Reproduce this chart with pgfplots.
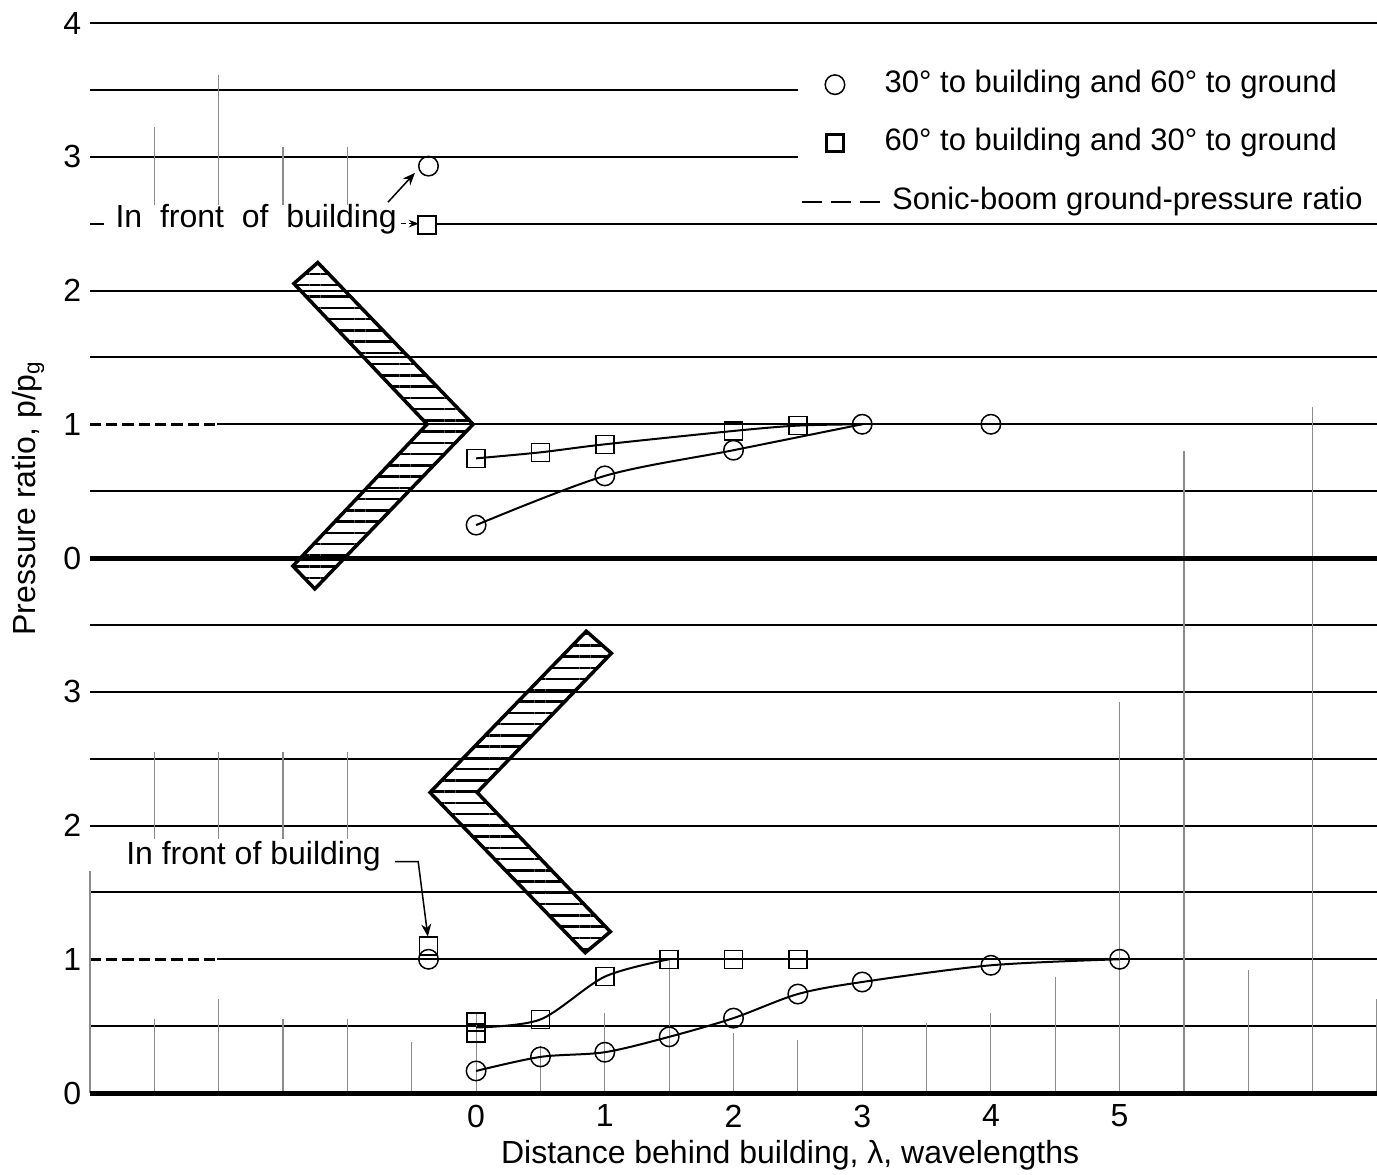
\documentclass[border=0pt]{standalone}
\usepackage{fontspec}
\setmainfont{Liberation Sans}
\usepackage{pgfplots}
\pgfplotsset{compat=1.18}
\usetikzlibrary{patterns.meta,arrows.meta}

\newcommand{\lab}{\fontsize{12.8}{15}\selectfont}
\newcommand{\leg}{\fontsize{12.4}{15}\selectfont}

\pgfplotsset{
  panel/.style={
    scale only axis, width=514.8pt, height=214pt,
    xmin=-3, xmax=7, ymin=0, ymax=4,
    axis line style={draw=none},
    tick style={draw=none},
    clip=false,
    /pgf/number format/assume math mode=true,
    ticklabel style={font=\lab},
    xticklabel style={yshift=-1.2pt},
  },
  fair/.style={line width=0.8pt, black, smooth, tension=0.5, no marks},
  circ/.style={black, only marks, mark=o, mark size=3.9pt, mark options={line width=0.6pt}},
  sqr/.style={black, only marks, mark=square, mark size=3.6pt, mark options={line width=0.6pt}},
}
\tikzset{
  hgrid/.style={line width=0.8pt, black},
  zero/.style={line width=2pt, black},
  paper/.style={black!45, line width=0.45pt},
  sb/.style={line width=1.4pt, black, dash pattern=on 4.5pt off 2pt},
  chev/.style={line width=1.4pt, black, line join=miter, pattern={Lines[angle=0,distance=4.5pt,line width=1pt]}},
}

\begin{document}
\begin{tikzpicture}
% ---------------- bottom panel ----------------
\begin{axis}[panel, name=bot, xtick={0,1,2,3,4,5}, ytick={0,1,2,3}]
  % horizontal grid
  \foreach \yy in {0.5,1.5,2,2.5,3,3.5} {\edef\tmp{\noexpand\draw[hgrid] (axis cs:-3,\yy) -- (axis cs:7,\yy);}\tmp}
  \draw[sb] (axis cs:-3,1) -- (axis cs:-2.01,1);
  \draw[hgrid] (axis cs:-2.01,1) -- (axis cs:7,1);
  % graph-paper remnants
  \foreach \xx/\ya/\yb in {-2.5/2.55/1.9, -2/2.55/1.9, -1.5/2.55/1.9, -1/2.55/1.9,
      -3/1.66/0, -2.5/0.55/0, -2/0.7/0, -1.5/0.55/0, -1/0.55/0, -0.5/0.38/0,
      0/0.6/0, 0.5/0.35/0, 1/0.6/0, 1.5/1/0, 2/0.45/0, 2.5/0.4/0, 3/0.5/0, 3.5/0.52/0,
      4/0.6/0, 4.5/0.87/0, 5/2.92/0, 5.5/4/0, 6/0.92/0, 6.5/4/0, 7/0.7/0}
    {\edef\tmp{\noexpand\draw[paper] (axis cs:\xx,\ya) -- (axis cs:\xx,\yb);}\tmp}
  \draw[zero] (axis cs:-3,0) -- (axis cs:7,0);
  % building
  \draw[chev] (axis cs:0.856,3.453) -- (axis cs:-0.358,2.247) -- (axis cs:0.848,1.049)
     -- (axis cs:1.043,1.206) -- (axis cs:0.008,2.247) -- (axis cs:1.051,3.288) -- cycle;
  % fairings
  \addplot[fair] coordinates {(0,0.49) (0.5,0.55) (1,0.87) (1.5,1.0)};
  \addplot[fair, sharp plot] coordinates {(1.5,1.0) (2.5,1.0)};
  \addplot[fair] coordinates {(0,0.165) (0.5,0.27) (1,0.305) (1.5,0.42) (2,0.56) (2.5,0.74) (3,0.83) (4,0.955) (5,1.0)};
  % data
  \addplot[sqr] coordinates {(-0.37,1.10) (0,0.53) (0,0.45) (0.5,0.55) (1,0.87) (1.5,1.0) (2,1.0) (2.5,1.0)};
  \addplot[circ] coordinates {(-0.37,1.0) (0,0.165) (0.5,0.27) (1,0.305) (1.5,0.42) (2,0.56) (2.5,0.74) (3,0.83) (4,0.955) (5,1.0)};
  % annotation
  \node[font=\lab] at (axis cs:-1.73,1.77) {In front of building};
  \draw[line width=0.6pt, -{Stealth[length=5pt,width=4pt]}] (axis cs:-0.63,1.73) -- (axis cs:-0.45,1.73) -- (axis cs:-0.375,1.17);
  % x label
  \node[font=\lab] at (axis cs:2.44,0) [yshift=-24.8pt] {Distance behind building, λ, wavelengths};
\end{axis}

% ---------------- top panel ----------------
\begin{axis}[panel, at={(0,214pt)}, xtick=\empty, ytick={0,1,2,3,4},
   legend style={at={(axis cs:2.52,3.683)}, anchor=north west, draw=none, fill=none,
      font=\leg, row sep=8.4pt, inner sep=0pt,
      nodes={inner sep=1.5pt, text height=9pt, text depth=3pt}},
   legend cell align=left,
   legend image code/.code={\draw[mark repeat=2,mark phase=2,#1] plot coordinates {(0cm,0cm) (0.466cm,0cm) (1.1cm,0cm)};}]
  \addlegendimage{circ}
  \addlegendentry{30\textdegree\ to building and 60\textdegree\ to ground}
  \addlegendimage{black, only marks, mark=square, mark size=3.4pt, mark options={line width=1.1pt}}
  \addlegendentry{60\textdegree\ to building and 30\textdegree\ to ground}
  \addlegendimage{black, line width=0.7pt, dash pattern=on 8pt off 3.6pt}
  \addlegendentry{\hspace{3pt}Sonic-boom ground-pressure ratio}
  % horizontal grid
  \foreach \yy in {0.5,1.5,2,4} {\edef\tmp{\noexpand\draw[hgrid] (axis cs:-3,\yy) -- (axis cs:7,\yy);}\tmp}
  \draw[hgrid] (axis cs:-3,3.5) -- (axis cs:2.5,3.5);
  \draw[hgrid] (axis cs:-3,3) -- (axis cs:2.5,3);
  \draw[hgrid] (axis cs:-3,2.5) -- (axis cs:-2.89,2.5);
  \draw[hgrid] (axis cs:-0.30,2.5) -- (axis cs:7,2.5);
  \draw[sb] (axis cs:-3,1) -- (axis cs:-2.01,1);
  \draw[hgrid] (axis cs:-2.01,1) -- (axis cs:7,1);
  % graph-paper remnants
  \foreach \xx/\ya/\yb in {-2.5/3.22/2.64, -2/3.61/2.64, -1.5/3.07/2.64, -1/3.07/2.64,
      5.5/0.8/0, 6.5/1.13/0}
    {\edef\tmp{\noexpand\draw[paper] (axis cs:\xx,\ya) -- (axis cs:\xx,\yb);}\tmp}
  \draw[zero] (axis cs:-3,0) -- (axis cs:7,0);
  % building
  \draw[chev] (axis cs:-1.23,2.209) -- (axis cs:-0.023,1.0) -- (axis cs:-1.253,-0.231)
     -- (axis cs:-1.424,-0.06) -- (axis cs:-0.381,1.0) -- (axis cs:-1.416,2.052) -- cycle;
  % fairings
  \addplot[fair, forget plot] coordinates {(0,0.745) (0.5,0.79) (1,0.85) (2,0.95) (2.5,0.99) (3,1.0)};
  \addplot[fair, forget plot] coordinates {(0,0.246) (1,0.614) (2,0.806) (3,1.0)};
  \addplot[fair, sharp plot, forget plot] coordinates {(3,1.0) (4,1.0)};
  % data
  \addplot[sqr, forget plot] coordinates {(-0.38,2.49) (0,0.745) (0.5,0.79) (1,0.85) (2,0.95) (2.5,0.99)};
  \addplot[circ, forget plot] coordinates {(-0.37,2.93) (0,0.246) (1,0.614) (2,0.806) (3,1.0) (4,1.0)};
  % annotations
  \node[font=\lab, anchor=west] at (axis cs:-2.87,2.53) {In\ \ front\ \ of\ \ building};
  \draw[line width=0.5pt, dash pattern=on 2pt off 1pt, -{Stealth[length=4pt,width=3pt]}] (axis cs:-0.58,2.5) -- (axis cs:-0.445,2.5);
  \draw[line width=0.6pt, -{Stealth[length=5pt,width=4pt]}] (axis cs:-0.685,2.66) -- (axis cs:-0.475,2.88);
  % y label
  \node[font=\lab, rotate=90] at ([xshift=-24.8pt]axis cs:-3,0.448) {Pressure ratio, p/p\textsubscript{g}};
\end{axis}
\pgfresetboundingbox
\path (-36pt,-32.4pt) rectangle (514.8pt,437.2pt);
\end{tikzpicture}
\end{document}
